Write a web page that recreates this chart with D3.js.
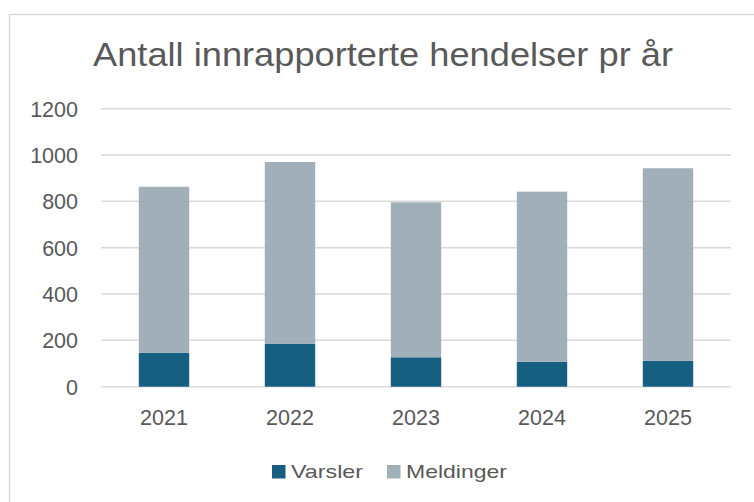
<!DOCTYPE html>
<html><head><meta charset="utf-8">
<script src="https://cdn.jsdelivr.net/npm/d3@7"></script>
<style>body{margin:0;background:#fff}svg{display:block}text{font-family:"Liberation Sans",Arial,sans-serif;fill:#595959}</style>
</head><body>
<svg id="c" width="754" height="502"></svg>
<script>
const title = "Antall innrapporterte hendelser pr år";
const years = ["2021","2022","2023","2024","2025"];
const varsler = [147, 186, 127, 108, 112];
const meldinger = [716, 784, 669, 734, 831];
const seriesNames = ["Varsler","Meldinger"];
const colors = ["#165f80","#a1afb9"];
const yTicks = [0,200,400,600,800,1000,1200];

const svg = d3.select("#c");
svg.append("rect").attr("x",9.5).attr("y",14.5).attr("width",900).attr("height",700)
  .attr("fill","#fff").attr("stroke","#d9d9d9").attr("stroke-width",1.5);

const x = d3.scaleBand().domain(years).range([101,731]).paddingInner(0.6).paddingOuter(0.3);
const y = d3.scaleLinear().domain([0,1200]).range([386.7,108.7]);

// gridlines
svg.append("g").selectAll("line").data(yTicks).join("line")
  .attr("x1",101).attr("x2",731).attr("y1",d=>y(d)).attr("y2",d=>y(d))
  .attr("stroke","#d9d9d9").attr("stroke-width",1.5);

// y labels
const yAxis = d3.axisLeft(y).tickValues(yTicks).tickFormat(d3.format("d")).tickSize(0).tickPadding(0);
const gy = svg.append("g").attr("transform","translate(78,0)").call(yAxis);
gy.select(".domain").remove();
gy.selectAll("text").attr("font-size",21.5).attr("font-family","Liberation Sans, Arial, sans-serif").attr("fill","#595959").attr("dy","0.35em");

// x labels
const xAxis = d3.axisBottom(x).tickSize(0).tickPadding(0);
const gx = svg.append("g").attr("transform","translate(0,425)").call(xAxis);
gx.select(".domain").remove();
gx.selectAll("text").attr("font-size",21.5).attr("font-family","Liberation Sans, Arial, sans-serif").attr("fill","#595959").attr("dy",0);

// stacked bars
const data = years.map((yr,i)=>({year:yr, Varsler:varsler[i], Meldinger:meldinger[i]}));
const stack = d3.stack().keys(seriesNames)(data);
svg.append("g").selectAll("g").data(stack).join("g").attr("fill",(d,i)=>colors[i])
  .selectAll("rect").data(d=>d).join("rect")
  .attr("x",d=>x(d.data.year)).attr("width",x.bandwidth())
  .attr("y",d=>y(d[1])).attr("height",d=>y(d[0])-y(d[1]));

// title
svg.append("text").attr("x",93).attr("y",66).attr("font-size",33)
  .attr("textLength",580).attr("lengthAdjust","spacingAndGlyphs").text(title);

// legend
const legX = [272, 387];
const legW = [72, 101];
const lg = svg.append("g").selectAll("g").data(seriesNames).join("g")
  .attr("transform",(d,i)=>`translate(${legX[i]},0)`);
lg.append("rect").attr("x",0).attr("y",465).attr("width",13.5).attr("height",13.5).attr("fill",(d,i)=>colors[i]);
lg.append("text").attr("x",19).attr("y",478).attr("font-size",19)
  .attr("textLength",(d,i)=>legW[i]).attr("lengthAdjust","spacingAndGlyphs").text(d=>d);
</script>
</body></html>
